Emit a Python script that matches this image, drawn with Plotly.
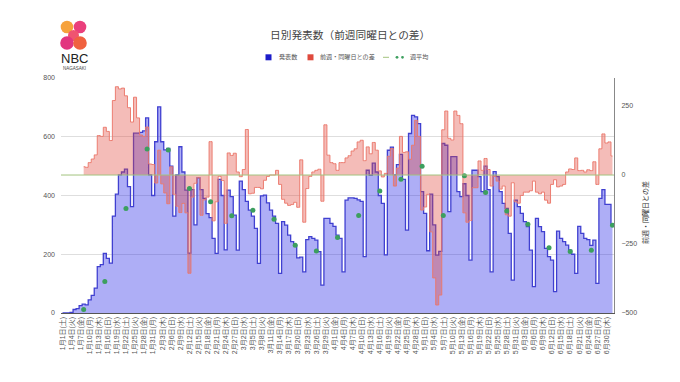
import datetime
import plotly.graph_objects as go

# ---------------- data ----------------
START = datetime.date(2022, 1, 1)
N_DAYS = 183
WEEKDAY_JA = ["月", "火", "水", "木", "金", "土", "日"]
categories = []
for i in range(N_DAYS):
    d = START + datetime.timedelta(days=i)
    categories.append(f"{d.month}月{d.day}日({WEEKDAY_JA[d.weekday()]})")

daily_counts = [
    0, 0, 0, 2, 12, 15, 25,
    30, 28, 45, 60, 85, 158, 165,
    203, 186, 170, 330, 405, 470, 480,
    490, 430, 362, 612, 612, 615, 620,
    664, 470, 400, 583, 702, 583, 555,
    560, 500, 330, 470, 566, 480, 418,
    204, 420, 300, 460, 420, 390, 338,
    325, 254, 203, 455, 400, 215, 418,
    396, 333, 214, 449, 420, 380, 350,
    330, 288, 169, 399, 401, 375, 350,
    330, 305, 135, 311, 299, 265, 243,
    231, 188, 190, 140, 250, 260, 254,
    248, 209, 95, 322, 322, 305, 295,
    265, 254, 140, 384, 392, 392, 390,
    385, 380, 192, 486, 469, 510, 480,
    400, 373, 198, 554, 565, 470, 505,
    540, 455, 282, 611, 673, 668, 645,
    413, 339, 212, 405, 300, 197, 210,
    577, 571, 345, 532, 532, 413, 396,
    440, 400, 180, 486, 486, 464, 413,
    500, 420, 140, 481, 464, 413, 373,
    356, 271, 112, 384, 362, 339, 311,
    294, 214, 90, 322, 294, 277, 220,
    192, 180, 73, 279, 254, 243, 231,
    214, 200, 135, 295, 271, 254, 250,
    230, 248, 101, 390, 420, 370, 370,
    299,
]

diff_prev_week = [
    None, None, None, None, None, None, None,
    30, 28, 45, 58, 73, 143, 140,
    173, 158, 125, 270, 320, 312, 315,
    287, 244, 192, 282, 207, 145, 140,
    174, 40, 38, -29, 90, -32, -65,
    -104, 30, -70, -113, -136, -103, -137,
    -356, -80, -30, -10, -146, -90, -80,
    121, -166, -97, -5, -20, -175, 80,
    71, 79, 11, -6, 20, 165, -68,
    -66, -45, -45, -50, -19, -5, 0,
    0, 17, -34, -88, -102, -110, -107,
    -99, -117, 55, -171, -49, -5, 11,
    17, 21, -95, 182, 72, 45, 41,
    17, 45, 45, 62, 70, 87, 95,
    120, 126, 52, 102, 77, 118, 90,
    15, -7, 6, 68, 96, -40, 25,
    140, 82, 84, 57, 108, 198, 140,
    -127, -116, -70, -206, -373, -471, -435,
    164, 232, 133, 127, 232, 216, 186,
    -137, -171, -165, -46, -46, 51, 17,
    60, 20, -40, -5, -22, -51, -40,
    -144, -149, -28, -97, -102, -74, -62,
    -62, -57, -22, -62, -68, -62, -91,
    -102, -34, -17, -43, -40, -34, 11,
    22, 20, 62, 16, 17, 11, 19,
    16, 48, -34, 95, 149, 116, 120,
    69,
]

weekly_avg_dates = categories[7::7]
weekly_avg = [12, 107, 356, 558, 555, 424, 379, 331, 350, 319, 231, 211, 257,
              332, 415, 455, 500, 332, 467, 410, 347, 302, 222, 209, 214, 299]

tick_labels = categories[::3]
left_ticks = [0, 200, 400, 600, 800]
right_ticks = [-500, -250, 0, 250]

# ---------------- layout helpers ----------------
OFF = 8                      # page body margin
W, H = 664, 366              # figure size (fits inside the 680x382 window)
# plot box, in page pixels
PL, PR, PT, PB = 61, 614, 78, 313


def px_x(x):
    return (x - PL) / (PR - PL)


def px_y(y):
    return (PB - y) / (PB - PT)


FONT = "Liberation Sans, Arial, Noto Sans CJK JP"
TXT = "#555555"

fig = go.Figure()

fig.add_trace(go.Scatter(
    x=categories, y=daily_counts, name="発表数", mode="lines",
    line=dict(shape="hvh", color="#4040d0", width=1.3),
    fill="tozeroy", fillcolor="rgba(30,30,230,0.36)",
    showlegend=False, yaxis="y"))

fig.add_trace(go.Scatter(
    x=categories, y=diff_prev_week, name="前週・同曜日との差", mode="lines",
    line=dict(shape="hvh", color="rgba(235,120,108,0.95)", width=1),
    fill="tozeroy", fillcolor="rgba(224,68,58,0.36)",
    showlegend=False, yaxis="y2"))

fig.add_trace(go.Scatter(
    x=weekly_avg_dates, y=weekly_avg, name="週平均", mode="markers",
    marker=dict(color="#3c9f5e", size=5),
    showlegend=False, yaxis="y3"))

shapes = []
# right-axis zero baseline (greenish)
shapes.append(dict(type="line", xref="paper", yref="y2", x0=0, x1=1, y0=0, y1=0,
                   line=dict(color="#a3c47e", width=1), layer="above"))

# manual legend
LY = 57.3
shapes.append(dict(type="rect", xref="paper", yref="paper",
                   x0=px_x(265.5), x1=px_x(271.5), y0=px_y(LY + 3), y1=px_y(LY - 3),
                   fillcolor="#1c1cc9", line=dict(width=0)))
shapes.append(dict(type="rect", xref="paper", yref="paper",
                   x0=px_x(307.5), x1=px_x(313.5), y0=px_y(LY + 3), y1=px_y(LY - 3),
                   fillcolor="#df4a3d", line=dict(width=0)))
shapes.append(dict(type="line", xref="paper", yref="paper",
                   x0=px_x(383), x1=px_x(389), y0=px_y(LY), y1=px_y(LY),
                   line=dict(color="#a3c47e", width=1)))
for cx in (397, 402.5):
    shapes.append(dict(type="circle", xref="paper", yref="paper",
                       x0=px_x(cx - 1.4), x1=px_x(cx + 1.4), y0=px_y(LY + 1.4), y1=px_y(LY - 1.4),
                       fillcolor="#3c9f5e", line=dict(width=0)))

# logo blobs
logo = [
    (67, 27, 6.3, "#f6a23c"),
    (80, 27, 6.3, "#ea3f7c"),
    (73.5, 35.5, 5.5, "#ef5470"),
    (67, 43, 6.8, "#e2357f"),
    (80, 43, 6.8, "#f0613f"),
]
for cx, cy, r, col in logo:
    shapes.append(dict(type="circle", xref="paper", yref="paper",
                       x0=px_x(cx - r), x1=px_x(cx + r), y0=px_y(cy + r), y1=px_y(cy - r),
                       fillcolor=col, line=dict(width=0), layer="above"))


def label(text, x, y, size, anchor="left", color=TXT, angle=0, family=FONT):
    return dict(text=text, x=px_x(x), y=px_y(y), xref="paper", yref="paper",
                xanchor=anchor, yanchor="middle", showarrow=False, textangle=angle,
                font=dict(size=size, color=color, family=family))


annotations = [
    label("発表数", 277, LY, 6.1),
    label("前週・同曜日との差", 317.5, LY, 6.1),
    label("週平均", 407.5, LY, 6.1),
    label("前週・同曜日との差", 645, 213, 7, anchor="center", color="#333333", angle=-90),
    label("NBC", 74, 58, 13, anchor="center", color="#222222",
          family="Liberation Sans Narrow, Liberation Sans"),
    label("NAGASAKI", 74, 68.5, 4.5, anchor="center", color="#444444",
          family="Liberation Sans"),
    label("日別発表数（前週同曜日との差）", 350, 35, 10.7, anchor="center", color="#444444"),
]

fig.update_layout(
    width=W, height=H,
    margin=dict(l=PL - OFF, r=W - (PR - OFF), t=PT - OFF, b=H - (PB - OFF), autoexpand=False),
    paper_bgcolor="white", plot_bgcolor="white",
    font=dict(family=FONT, color="#444444", size=8),
    showlegend=False,
    xaxis=dict(type="category", range=[-0.5, N_DAYS - 0.5],
               tickmode="array", tickvals=tick_labels, ticktext=tick_labels,
               tickangle=-90, tickfont=dict(size=7, color="#555555"),
               showgrid=False, showline=True, linecolor="#555555", linewidth=1,
               ticks="", zeroline=False, automargin=False, fixedrange=True),
    yaxis=dict(range=[0, 800], tickvals=left_ticks, tickfont=dict(size=7, color="#555555"),
               showgrid=True, gridcolor="#dedede", gridwidth=1, zeroline=False,
               showline=False, ticks="", ticklabelstandoff=5, automargin=False),
    yaxis2=dict(range=[-500, 351.6], tickvals=right_ticks, overlaying="y", side="right",
                tickfont=dict(size=7, color="#555555"), showgrid=False, zeroline=False,
                showline=True, linecolor="#888888", linewidth=1, ticks="",
                ticklabelstandoff=5, automargin=False),
    yaxis3=dict(range=[0, 800], overlaying="y", visible=False),
    shapes=shapes,
    annotations=annotations,
)

fig.write_html("out.html")
